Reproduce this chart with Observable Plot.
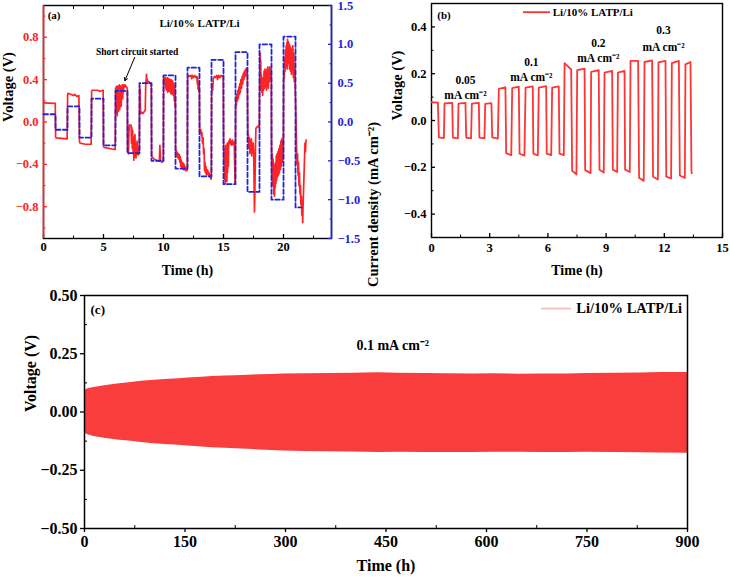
<!DOCTYPE html>
<html>
<head>
<meta charset="utf-8">
<script src="https://cdn.jsdelivr.net/npm/d3@7"></script>
<script src="https://cdn.jsdelivr.net/npm/@observablehq/plot@0.6"></script>
<style>
  body { margin: 0; background: #fff; }
  #fig { position: relative; width: 730px; height: 579px; overflow: hidden; background: #fff;
         font-family: "Liberation Serif", "Times New Roman", serif; font-weight: bold; }
  #fig svg { position: absolute; }
</style>
</head>
<body>
<div id="fig"></div>
<script>
// ---------- (a) step-current polarization of Li/10% LATP/Li ----------
// Applied current density steps (mA cm^-2): step start times (h) and levels
const currentTime  = [0, 1, 2, 3, 4, 5, 6, 7, 8, 9, 10, 11, 12, 13, 14, 15, 16, 17, 18, 19, 20, 21, 21.5];
const currentLevel = [0.1, -0.1, 0.2, -0.2, 0.3, -0.3, 0.4, -0.4, 0.5, -0.5, 0.6, -0.6, 0.7, -0.7, 0.8, -0.8, 0.9, -0.9, 1.0, -1.0, 1.1, -1.1, -1.1];

// Measured cell voltage (time h, voltage V)
const voltageA = [
  [0,0.18],[0.98,0.175],[1.01,-0.14],[1.05,-0.15],[1.5,-0.155],[1.97,-0.16],
  [2.01,0.26],[2.05,0.27],[2.3,0.26],[2.5,0.25],[2.6,0.26],[2.8,0.24],[2.95,0.25],
  [3.0,-0.19],[3.05,-0.2],[3.5,-0.21],[3.97,-0.21],
  [4.01,0.29],[4.05,0.3],[4.5,0.3],[4.7,0.29],[4.97,0.3],
  [5.0,-0.23],[5.05,-0.24],[5.5,-0.25],[5.97,-0.26],
  [6.01,0.32],[6.03,0.18],[6.05,0.33],[6.07,0.08],[6.09,0.3],[6.11,0.12],[6.13,0.34],[6.15,0.06],[6.17,0.28],[6.2,0.14],[6.22,0.34],[6.25,0.1],[6.27,0.31],[6.3,0.16],[6.33,0.35],[6.36,0.12],[6.39,0.3],[6.42,0.2],[6.45,0.34],[6.48,0.15],[6.51,0.33],[6.54,0.24],[6.57,0.35],[6.6,0.22],[6.63,0.34],[6.66,0.28],[6.7,0.35],[6.75,0.33],[6.8,0.35],[6.9,0.33],[6.98,0.32],
  [7.01,-0.28],[7.08,-0.3],[7.12,-0.1],[7.15,-0.03],[7.3,-0.03],[7.33,-0.2],[7.36,-0.05],[7.4,-0.25],[7.43,-0.08],[7.47,-0.3],[7.5,-0.14],[7.53,-0.36],[7.56,-0.18],[7.59,-0.33],[7.62,-0.12],[7.65,-0.3],[7.68,-0.2],[7.71,-0.34],[7.74,-0.22],[7.77,-0.31],[7.8,-0.18],[7.83,-0.3],[7.87,-0.24],[7.91,-0.31],[7.95,-0.27],[7.98,-0.3],
  [8.01,0.33],[8.05,0.3],[8.08,0.12],[8.12,0.08],[8.2,0.09],[8.3,0.08],[8.4,0.1],[8.48,0.11],[8.52,0.36],[8.56,0.4],[8.58,0.45],[8.61,0.38],[8.66,0.4],[8.72,0.37],[8.8,0.38],[8.9,0.36],[8.98,0.36],
  [9.01,-0.32],[9.2,-0.35],[9.4,-0.36],[9.65,-0.37],[9.7,-0.22],[9.75,-0.36],[9.85,-0.38],[9.98,-0.37],
  [10.01,0.42],[10.08,0.41],[10.12,0.36],[10.15,0.42],[10.18,0.32],[10.21,0.41],[10.24,0.3],[10.27,0.4],[10.3,0.33],[10.33,0.42],[10.36,0.28],[10.39,0.4],[10.42,0.31],[10.45,0.41],[10.48,0.29],[10.51,0.4],[10.54,0.32],[10.57,0.39],[10.6,0.27],[10.63,0.4],[10.66,0.3],[10.69,0.38],[10.72,0.26],[10.75,0.39],[10.78,0.3],[10.81,0.37],[10.84,0.25],[10.87,0.36],[10.9,0.2],[10.93,0.33],[10.96,0.15],[10.99,0.25],
  [11.01,-0.29],[11.05,-0.31],[11.08,-0.27],[11.12,-0.33],[11.16,-0.29],[11.2,-0.34],[11.24,-0.3],[11.28,-0.35],[11.32,-0.31],[11.36,-0.38],[11.4,-0.33],[11.44,-0.42],[11.48,-0.36],[11.52,-0.43],[11.56,-0.38],[11.6,-0.44],[11.64,-0.39],[11.68,-0.45],[11.72,-0.4],[11.76,-0.45],[11.8,-0.42],[11.85,-0.46],[11.9,-0.44],[11.95,-0.46],[11.98,-0.45],
  [12.01,0.42],[12.1,0.44],[12.2,0.43],[12.3,0.44],[12.35,0.41],[12.4,0.44],[12.5,0.42],[12.6,0.44],[12.7,0.42],[12.78,0.43],[12.82,0.36],[12.85,0.42],[12.88,0.31],[12.91,0.38],[12.94,0.29],[12.97,0.34],[12.99,0.3],
  [13.01,-0.09],[13.06,-0.1],[13.1,-0.07],[13.15,-0.13],[13.2,-0.1],[13.25,-0.2],[13.3,-0.15],[13.34,-0.3],[13.38,-0.25],[13.42,-0.46],[13.46,-0.38],[13.5,-0.48],[13.54,-0.42],[13.58,-0.5],[13.62,-0.45],[13.66,-0.49],[13.7,-0.46],[13.75,-0.51],[13.8,-0.48],[13.85,-0.52],[13.9,-0.5],[13.95,-0.54],[13.98,-0.53],
  [14.01,0.25],[14.05,0.35],[14.1,0.3],[14.15,0.41],[14.25,0.43],[14.35,0.42],[14.45,0.44],[14.5,0.4],[14.6,0.44],[14.7,0.42],[14.8,0.44],[14.9,0.43],[14.98,0.44],
  [15.01,-0.2],[15.04,-0.4],[15.07,-0.25],[15.1,-0.55],[15.13,-0.3],[15.16,-0.58],[15.19,-0.22],[15.22,-0.52],[15.25,-0.28],[15.28,-0.56],[15.31,-0.2],[15.34,-0.48],[15.37,-0.24],[15.4,-0.42],[15.44,-0.18],[15.5,-0.2],[15.55,-0.16],[15.6,-0.21],[15.65,-0.18],[15.7,-0.22],[15.75,-0.17],[15.8,-0.21],[15.85,-0.19],[15.9,-0.22],[15.93,-0.4],[15.96,-0.58],[15.98,-0.55],
  [16.01,0.12],[16.05,0.22],[16.08,0.16],[16.12,0.26],[16.16,0.2],[16.2,0.3],[16.24,0.22],[16.28,0.33],[16.32,0.26],[16.36,0.36],[16.4,0.28],[16.45,0.4],[16.5,0.32],[16.55,0.43],[16.6,0.36],[16.65,0.46],[16.7,0.4],[16.75,0.48],[16.8,0.43],[16.85,0.5],[16.9,0.45],[16.95,0.51],[16.98,0.48],
  [17.01,0.1],[17.04,-0.18],[17.08,-0.12],[17.12,-0.25],[17.16,-0.15],[17.2,-0.3],[17.24,-0.18],[17.28,-0.28],[17.32,-0.16],[17.36,-0.32],[17.4,-0.2],[17.44,-0.28],[17.48,-0.2],[17.52,-0.3],[17.55,-0.6],[17.58,-0.85],[17.61,-0.7],[17.64,-0.45],[17.67,-0.2],[17.7,-0.06],[17.85,-0.04],[17.98,-0.05],
  [18.01,0.3],[18.04,0.6],[18.06,0.65],[18.08,0.5],[18.1,0.58],[18.13,0.3],[18.16,0.45],[18.19,0.28],[18.22,0.42],[18.26,0.25],[18.3,0.4],[18.34,0.3],[18.38,0.48],[18.42,0.32],[18.46,0.5],[18.5,0.35],[18.54,0.46],[18.58,0.3],[18.62,0.5],[18.66,0.36],[18.7,0.52],[18.74,0.32],[18.78,0.48],[18.82,0.38],[18.86,0.52],[18.9,0.4],[18.94,0.5],[18.98,0.45],
  [19.01,-0.35],[19.04,-0.55],[19.07,-0.3],[19.1,-0.6],[19.13,-0.35],[19.16,-0.5],[19.19,-0.68],[19.22,-0.4],[19.25,-0.7],[19.28,-0.45],[19.31,-0.62],[19.34,-0.38],[19.37,-0.58],[19.4,-0.32],[19.43,-0.55],[19.46,-0.3],[19.5,-0.52],[19.54,-0.28],[19.58,-0.5],[19.62,-0.25],[19.66,-0.48],[19.7,-0.22],[19.74,-0.45],[19.78,-0.18],[19.82,-0.42],[19.86,-0.16],[19.9,-0.38],[19.94,-0.2],[19.98,-0.35],
  [20.01,0.35],[20.04,0.5],[20.07,0.42],[20.1,0.6],[20.13,0.48],[20.16,0.68],[20.19,0.52],[20.22,0.72],[20.25,0.55],[20.28,0.75],[20.31,0.5],[20.34,0.78],[20.37,0.6],[20.4,0.76],[20.43,0.55],[20.46,0.74],[20.5,0.5],[20.54,0.72],[20.58,0.48],[20.62,0.7],[20.66,0.45],[20.7,0.68],[20.74,0.5],[20.78,0.72],[20.82,0.42],[20.86,0.65],[20.9,0.38],[20.94,0.5],[20.98,0.3],[21.03,0.1],
  [21.08,-0.2],[21.13,-0.4],[21.17,-0.3],[21.21,-0.5],[21.25,-0.38],[21.29,-0.6],[21.33,-0.48],[21.37,-0.68],[21.41,-0.6],[21.45,-0.78],[21.49,-0.7],[21.53,-0.88],[21.57,-0.82],[21.6,-0.95],[21.63,-0.8],[21.67,-0.65],[21.71,-0.5],[21.75,-0.35],[21.79,-0.2],[21.83,-0.28],[21.87,-0.18],[21.9,-0.17]
];

const aTimeTicks = [0, 5, 10, 15, 20];
const aTimeMinor = [2.5, 7.5, 12.5, 17.5, 22.5];
const aVoltTicks = [-0.8, -0.4, 0, 0.4, 0.8];
const aVoltMinor = [-1.0, -0.6, -0.2, 0.2, 0.6, 1.0];
const aCurrTicks = [-1.5, -1.0, -0.5, 0, 0.5, 1.0, 1.5];
const aCurrMinor = [-1.25, -0.75, -0.25, 0.25, 0.75, 1.25];

// ---------- (b) rate test: plateaus [start h, end h, V at start, V at end] ----------
const plateausB = [
  [0.0,0.33,0.078,0.076],[0.38,0.64,-0.072,-0.075],[0.67,1.07,0.073,0.075],[1.10,1.36,-0.073,-0.076],
  [1.39,1.75,0.072,0.075],[1.79,2.04,-0.073,-0.076],[2.08,2.44,0.072,0.075],[2.47,2.73,-0.073,-0.076],
  [2.77,3.09,0.071,0.074],[3.13,3.42,-0.072,-0.077],
  [3.47,3.81,0.135,0.142],[3.85,4.11,-0.14,-0.148],[4.16,4.50,0.138,0.145],[4.54,4.79,-0.142,-0.15],
  [4.85,5.22,0.14,0.146],[5.25,5.48,-0.142,-0.149],[5.53,5.91,0.14,0.147],[5.94,6.17,-0.142,-0.148],
  [6.22,6.56,0.14,0.146],[6.60,6.82,-0.142,-0.148],
  [6.86,7.20,0.245,0.218],[7.25,7.47,-0.215,-0.23],[7.51,7.89,0.215,0.222],[7.92,8.20,-0.212,-0.225],
  [8.23,8.62,0.208,0.215],[8.66,8.88,-0.21,-0.222],[8.92,9.31,0.205,0.212],[9.35,9.57,-0.21,-0.22],
  [9.61,9.95,0.205,0.212],[9.98,10.22,-0.21,-0.22],
  [10.26,10.65,0.255,0.255],[10.70,10.94,-0.245,-0.258],[10.98,11.37,0.25,0.257],[11.42,11.67,-0.24,-0.252],
  [11.70,12.06,0.248,0.255],[12.10,12.35,-0.24,-0.248],[12.39,12.75,0.245,0.255],[12.80,13.06,-0.235,-0.245],
  [13.09,13.35,0.24,0.25],[13.4,13.42,-0.22,-0.225]
];
const rateLabels = ["0.05", "0.1", "0.2", "0.3"];
const bTimeTicks = [0, 3, 6, 9, 12, 15];
const bTimeMinor = [1.5, 4.5, 7.5, 10.5, 13.5];
const bVoltTicks = [-0.4, -0.2, 0, 0.2, 0.4];
const bVoltMinor = [-0.3, -0.1, 0.1, 0.3];

// ---------- (c) long-term cycling envelope at 0.1 mA cm^-2 ----------
const cTime  = [0, 5, 14, 30, 49, 70, 85, 100, 120, 140, 155, 175, 191, 210, 226, 245, 261, 280, 296, 330, 367, 400, 438, 470, 508, 540, 579, 610, 649, 680, 720, 750, 791, 830, 861, 900];
const cUpper = [0.092, 0.1, 0.105, 0.113, 0.12, 0.127, 0.132, 0.135, 0.139, 0.143, 0.146, 0.149, 0.152, 0.154, 0.156, 0.158, 0.160, 0.161, 0.163, 0.164, 0.165, 0.166, 0.168, 0.166, 0.165, 0.164, 0.163, 0.164, 0.162, 0.163, 0.163, 0.165, 0.166, 0.167, 0.169, 0.169];
const cLower = [-0.09, -0.098, -0.105, -0.113, -0.12, -0.126, -0.131, -0.135, -0.14, -0.143, -0.146, -0.15, -0.153, -0.156, -0.158, -0.16, -0.163, -0.165, -0.167, -0.169, -0.171, -0.172, -0.174, -0.173, -0.174, -0.174, -0.174, -0.173, -0.173, -0.174, -0.174, -0.173, -0.174, -0.175, -0.176, -0.177];
const cTimeTicks = [0, 150, 300, 450, 600, 750, 900];
const cTimeMinor = [75, 225, 375, 525, 675, 825];
const cVoltTicks = [-0.5, -0.25, 0, 0.25, 0.5];
const cVoltMinor = [-0.375, -0.125, 0.125, 0.375];

// ---------- drawing ----------
const RED = "#ff2424", BLUE = "#2222dd", RED_B = "#ff3535", RED_C = "#f93c3c", PINK = "#f8c4c4";
const baseStyle = {background: "transparent", fontFamily: "'Liberation Serif', 'Times New Roman', serif",
  fontWeight: "bold", fontSize: "12.5px", color: "black", overflow: "visible"};
const noLabel = () => "";
const fig = document.getElementById("fig");
function place(svg, left, top) {
  svg.style.left = left + "px";
  svg.style.top = top + "px";
  fig.appendChild(svg);
}

const dimA = {width: 380, height: 285, marginLeft: 43, marginRight: 49, marginTop: 5, marginBottom: 47};

// (a) voltage layer, left axis
const currentSteps = currentTime.map((t, i) => ({t, j: currentLevel[i]}));
const shortArrow = [{x1: 7.6, y1: 0.61, x2: 6.78, y2: 0.39}];
place(Plot.plot({
  ...dimA,
  x: {domain: [0, 24]},
  y: {domain: [-1.1, 1.1]},
  style: baseStyle,
  marks: [
    Plot.frame({stroke: "black", strokeWidth: 1.4}),
    Plot.line(voltageA, {x: d => d[0], y: d => d[1], stroke: RED, strokeWidth: 1.7, strokeLinejoin: "round"}),
    Plot.axisX({ticks: aTimeTicks, tickSize: -4, tickPadding: 8, label: null, strokeWidth: 1.3}),
    Plot.axisX({ticks: aTimeMinor, tickSize: -2.5, tickFormat: noLabel, label: null}),
    Plot.axisX({anchor: "top", ticks: aTimeTicks.concat(aTimeMinor), tickSize: -3, tickFormat: noLabel, label: null}),
    Plot.axisY({ticks: aVoltTicks, tickSize: -4, tickPadding: 9, color: RED, label: null, strokeWidth: 1.3}),
    Plot.axisY({ticks: aVoltMinor, tickSize: -2.5, tickFormat: noLabel, color: RED, label: null}),
    Plot.ruleX([0], {stroke: RED, strokeWidth: 1.6}),
    Plot.text(["Voltage (V)"], {frameAnchor: "left", dx: -35, rotate: -90, fontSize: 14.5}),
    Plot.text(["Time (h)"], {frameAnchor: "bottom", dy: 36, fontSize: 14}),
    Plot.text(["(a)"], {x: 0.35, y: 1.01, textAnchor: "start", fontSize: 11}),
    Plot.text(["Li/10% LATP/Li"], {x: 13, y: 0.935, fontSize: 11}),
    Plot.text(["Short circuit started"], {x: 7.8, y: 0.66, fontSize: 9.5}),
    Plot.arrow(shortArrow, {x1: "x1", y1: "y1", x2: "x2", y2: "y2", stroke: "black", strokeWidth: 1, headLength: 5})
  ]
}), 0, 0);

// (a) current layer, right axis
place(Plot.plot({
  ...dimA,
  x: {domain: [0, 24], axis: null},
  y: {domain: [-1.5, 1.5]},
  style: baseStyle,
  marks: [
    Plot.line(currentSteps, {x: "t", y: "j", curve: "step-after", stroke: BLUE, strokeWidth: 1.8, strokeDasharray: "4.5,2.5"}),
    Plot.axisY({anchor: "right", ticks: aCurrTicks, tickSize: -4, tickPadding: 10, color: BLUE, label: null, strokeWidth: 1.3}),
    Plot.axisY({anchor: "right", ticks: aCurrMinor, tickSize: -2.5, tickFormat: noLabel, color: BLUE, label: null}),
    Plot.ruleX([24], {stroke: BLUE, strokeWidth: 1.6}),
    Plot.text(["Current density (mA cm⁻²)"], {frameAnchor: "right", dx: 42, rotate: -90, fontSize: 14.5, fill: "black"})
  ]
}), 0, 0);

// (b)
const traceB = plateausB.flatMap(([t0, t1, v0, v1]) => [{t: t0, v: v0}, {t: t1, v: v1}]);
const rateNotes = [
  {x: 1.75, y: 0.172, y2: 0.108},
  {x: 5.15, y: 0.25, y2: 0.185},
  {x: 8.6, y: 0.33, y2: 0.266},
  {x: 11.96, y: 0.387, y2: 0.314}
].map((d, i) => ({...d, rate: rateLabels[i]}));
place(Plot.plot({
  width: 360, height: 285, marginLeft: 61, marginRight: 8, marginTop: 3, marginBottom: 48,
  x: {domain: [0, 15]},
  y: {domain: [-0.5, 0.5]},
  style: baseStyle,
  marks: [
    Plot.frame({stroke: "black", strokeWidth: 1.4}),
    Plot.line(traceB, {x: "t", y: "v", stroke: RED_B, strokeWidth: 1.8, strokeLinejoin: "round"}),
    Plot.axisX({ticks: bTimeTicks, tickSize: -4, tickPadding: 10, label: null, strokeWidth: 1.3}),
    Plot.axisX({ticks: bTimeMinor, tickSize: -2.5, tickFormat: noLabel, label: null}),
    Plot.axisY({ticks: bVoltTicks, tickSize: -4, tickPadding: 9, label: null, strokeWidth: 1.3}),
    Plot.axisY({ticks: bVoltMinor, tickSize: -2.5, tickFormat: noLabel, label: null}),
    Plot.text(["Voltage (V)"], {frameAnchor: "left", dx: -34, rotate: -90, fontSize: 14.5}),
    Plot.text(["Time (h)"], {frameAnchor: "bottom", dy: 37, fontSize: 14}),
    Plot.text(["(b)"], {x: 0.3, y: 0.45, textAnchor: "start", fontSize: 11}),
    Plot.ruleY([0.463], {x1: 4.74, x2: 6.13, stroke: RED_B, strokeWidth: 1.8}),
    Plot.text(["Li/10% LATP/Li"], {x: 6.25, y: 0.463, textAnchor: "start", fontSize: 11}),
    Plot.text(rateNotes, {x: "x", y: "y", text: "rate", fontSize: 11.5}),
    Plot.text(rateNotes, {x: "x", y: "y2", text: () => "mA cm⁻²", fontSize: 11.5})
  ]
}), 370, 0);

// (c)
const bandC = cTime.map((t, i) => ({t, lo: cLower[i], hi: cUpper[i]}));
place(Plot.plot({
  width: 730, height: 294, marginLeft: 84, marginRight: 43, marginTop: 10, marginBottom: 51,
  x: {domain: [0, 900]},
  y: {domain: [-0.5, 0.5]},
  style: {...baseStyle, fontSize: "16px"},
  marks: [
    Plot.areaY(bandC, {x: "t", y1: "lo", y2: "hi", fill: RED_C}),
    Plot.frame({stroke: "black", strokeWidth: 1.5}),
    Plot.axisX({ticks: cTimeTicks, tickSize: 4, tickPadding: 3, label: null, strokeWidth: 1.3}),
    Plot.axisX({ticks: cTimeMinor, tickSize: -3, tickFormat: noLabel, label: null}),
    Plot.axisY({ticks: cVoltTicks, tickSize: 4, tickPadding: 3, tickFormat: d3.format(".2f"), label: null, strokeWidth: 1.3}),
    Plot.axisY({ticks: cVoltMinor, tickSize: -3, tickFormat: noLabel, label: null}),
    Plot.text(["Voltage (V)"], {frameAnchor: "left", dx: -54, rotate: -90, fontSize: 16}),
    Plot.text(["Time (h)"], {frameAnchor: "bottom", dy: 42, fontSize: 16}),
    Plot.text(["(c)"], {x: 9, y: 0.44, textAnchor: "start", fontSize: 13}),
    Plot.text(["0.1 mA cm⁻²"], {x: 460, y: 0.285, fontSize: 14}),
    Plot.ruleY([0.444], {x1: 682, x2: 727, stroke: PINK, strokeWidth: 2}),
    Plot.text(["Li/10% LATP/Li"], {x: 734, y: 0.444, textAnchor: "start", fontSize: 14.5})
  ]
}), 0, 285);
</script>
</body>
</html>
